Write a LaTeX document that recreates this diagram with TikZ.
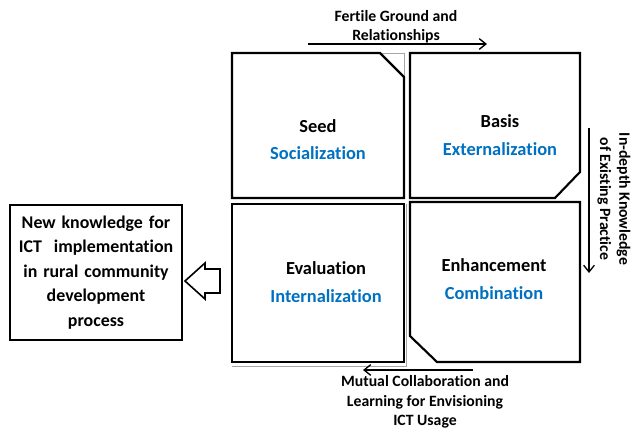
\documentclass[tikz,border=0pt]{standalone}
\usepackage{fontspec}
\setmainfont{Carlito}[Ligatures=NoCommon]
\usetikzlibrary{arrows.meta}
\definecolor{blu}{RGB}{0,112,192}
\begin{document}
\begin{tikzpicture}[x=0.75pt,y=-0.75pt,
  boxline/.style={draw=black,line width=1.6pt,line join=miter},
  shadowline/.style={draw=gray!70,line width=0.6pt},
  lbl/.style={font=\bfseries\fontsize{13.8}{16}\selectfont,text=black},
  mode/.style={font=\bfseries\fontsize{13.8}{16}\selectfont,text=blu},
  arrlbl/.style={font=\bfseries\fontsize{11.8}{14.5}\selectfont,align=center},
  flow/.style={draw=black,line width=1pt,-{Straight Barb[length=5pt,width=8pt]}}]
\useasboundingbox (0,0) rectangle (640,440);
% shadow edges
\draw[shadowline] (380,53) -- (404,53) -- (404,77);
\draw[shadowline] (232,366) -- (406,366) -- (406,204);
% Seed
\draw[boxline] (232,53) -- (380,53) -- (404,77) -- (404,198) -- (232,198) -- cycle;
\node[lbl] (seed) at (318,126) {Seed};
\node[mode] (soc) at (318,153) {Socialization};
% Basis
\draw[boxline] (410,53) -- (580,53) -- (580,172) -- (555,198) -- (410,198) -- cycle;
\node[lbl] (basis) at (500,121) {Basis};
\node[mode] (ext) at (500,149) {Externalization};
% Evaluation
\draw[boxline] (232,204) -- (404,204) -- (404,362) -- (232,362) -- cycle;
\node[lbl] (eval) at (326,268) {Evaluation};
\node[mode] (int) at (326,296) {Internalization};
% Enhancement
\draw[boxline] (410,202) -- (580,202) -- (580,362) -- (437,362) -- (410,336) -- cycle;
\node[lbl] (enh) at (494,265) {Enhancement};
\node[mode] (comb) at (494,293) {Combination};
% left box
\node[draw=black,line width=1.6pt,inner sep=0pt,align=center,
  font=\bfseries\fontsize{13.4}{18.4}\selectfont,
  minimum width=129pt,minimum height=101pt,text width=127pt] (newk) at (96,272.5)
  {New knowledge for\\ICT\ \ implementation\\in rural community\\development\\process};
% block arrow
\draw[line width=1.2pt,line join=miter] (185,281) -- (205,263) -- (205,269) -- (220,269) -- (220,293) -- (205,293) -- (205,299) -- cycle;
% top arrow
\coordinate (ta) at (308,44);
\coordinate (tb) at (487,44);
\draw[flow] (ta) -- (tb);
\node[arrlbl] (tl) at (396,27) {Fertile Ground and\\Relationships};
% right arrow
\coordinate (ra) at (589,128);
\coordinate (rb) at (589,273);
\draw[flow] (ra) -- (rb);
\node[arrlbl,rotate=-90] (rl) at (614,199) {In-depth Knowledge\\of Existing Practice};
% bottom arrow
\coordinate (ba) at (473,370);
\coordinate (bb) at (363,370);
\draw[flow] (ba) -- (bb);
\node[arrlbl,font=\bfseries\fontsize{11.8}{14.7}\selectfont] (bl) at (425,402) {Mutual Collaboration and\\Learning for Envisioning\\ICT Usage};
\end{tikzpicture}
\end{document}
